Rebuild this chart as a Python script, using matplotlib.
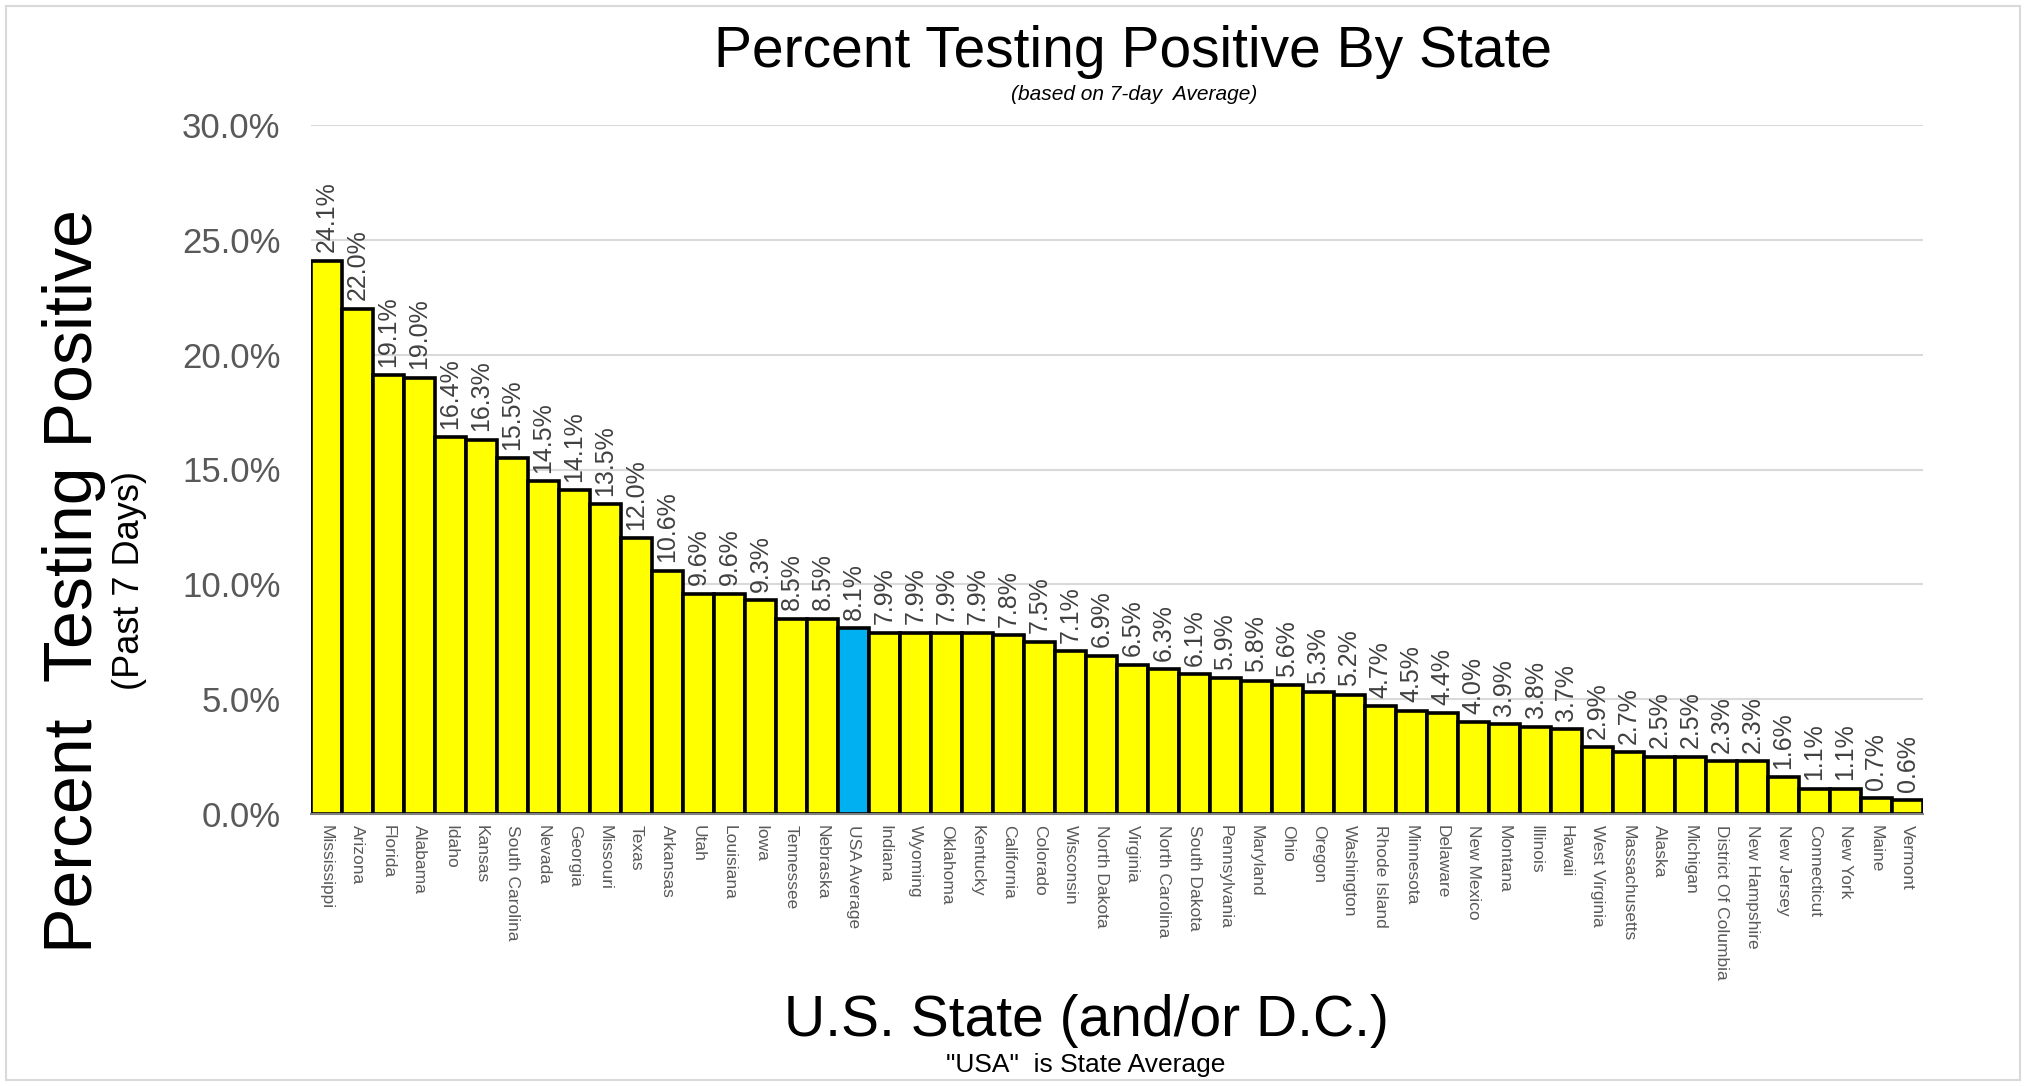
import matplotlib
matplotlib.use("Agg")
import matplotlib.pyplot as plt
from matplotlib.patches import Rectangle
from matplotlib.ticker import PercentFormatter

states = [
    "Mississippi", "Arizona", "Florida", "Alabama", "Idaho", "Kansas",
    "South Carolina", "Nevada", "Georgia", "Missouri", "Texas", "Arkansas",
    "Utah", "Louisiana", "Iowa", "Tennessee", "Nebraska", "USA Average",
    "Indiana", "Wyoming", "Oklahoma", "Kentucky", "California", "Colorado",
    "Wisconsin", "North Dakota", "Virginia", "North Carolina", "South Dakota",
    "Pennsylvania", "Maryland", "Ohio", "Oregon", "Washington", "Rhode Island",
    "Minnesota", "Delaware", "New Mexico", "Montana", "Illinois", "Hawaii",
    "West Virginia", "Massachusetts", "Alaska", "Michigan",
    "District Of Columbia", "New Hampshire", "New Jersey", "Connecticut",
    "New York", "Maine", "Vermont",
]
pct_positive = [
    24.1, 22.0, 19.1, 19.0, 16.4, 16.3, 15.5, 14.5, 14.1, 13.5, 12.0, 10.6,
    9.6, 9.6, 9.3, 8.5, 8.5, 8.1, 7.9, 7.9, 7.9, 7.9, 7.8, 7.5, 7.1, 6.9,
    6.5, 6.3, 6.1, 5.9, 5.8, 5.6, 5.3, 5.2, 4.7, 4.5, 4.4, 4.0, 3.9, 3.8,
    3.7, 2.9, 2.7, 2.5, 2.5, 2.3, 2.3, 1.6, 1.1, 1.1, 0.7, 0.6,
]
highlight = "USA Average"
y_ticks = [0, 5, 10, 15, 20, 25, 30]

FONT = ["Liberation Sans", "DejaVu Sans"]
plt.rcParams["font.family"] = FONT

W, H = 2026, 1086
fig = plt.figure(figsize=(W / 100, H / 100), dpi=100)

# axes box in pixel terms: x 311..1923, y 125..814 (from top)
ax = fig.add_axes([311 / W, 1 - 814 / H, (1923 - 311) / W, (814 - 125) / H])

colors = ["#00B0F0" if s == highlight else "#FFFF00" for s in states]
x = range(len(states))
ax.bar(x, pct_positive, width=1.0, color=colors, edgecolor="black",
       linewidth=2.6, zorder=3)

for xi, v in zip(x, pct_positive):
    ax.annotate(f"{v:.1f}%", (xi, v), xytext=(0, 6), textcoords="offset points",
                rotation=90, ha="center", va="bottom", fontsize=18,
                color="#404040")

ax.set_xlim(-0.5, len(states) - 0.5)
ax.set_ylim(0, 30)
ax.set_yticks(y_ticks)
ax.yaxis.set_major_formatter(PercentFormatter(decimals=1))
ax.set_xticks(list(x))
ax.set_xticklabels(states, rotation=270, fontsize=12.5, color="#595959",
                   va="top", ha="center")
for lbl in ax.get_yticklabels():
    lbl.set_fontsize(25)
    lbl.set_color("#595959")
ax.tick_params(axis="both", length=0)
ax.tick_params(axis="y", pad=22)
ax.tick_params(axis="x", pad=8)
ax.grid(axis="y", color="#d9d9d9", linewidth=1.5, zorder=0)
for side in ["top", "right", "left"]:
    ax.spines[side].set_visible(False)
ax.spines["bottom"].set_color("#808080")
ax.spines["bottom"].set_linewidth(1.5)
ax.spines["bottom"].set_zorder(4)

# titles and axis labels placed in figure pixels
fig.text(1133 / W, 1 - 52 / H, "Percent Testing Positive By State",
         ha="center", va="center", fontsize=41)
fig.text(1134 / W, 1 - 95 / H, "(based on 7-day  Average)",
         ha="center", va="center", fontsize=15, style="italic")
fig.text(74 / W, 1 - 581 / H, "Percent  Testing Positive", rotation=90,
         ha="center", va="center", fontsize=49)
fig.text(129 / W, 1 - 581 / H, "(Past 7 Days)", rotation=90,
         ha="center", va="center", fontsize=26)
fig.text(1086 / W, 1 - 1021 / H, "U.S. State (and/or D.C.)",
         ha="center", va="center", fontsize=41)
fig.text(1086 / W, 1 - 1065 / H, '"USA"  is State Average',
         ha="center", va="center", fontsize=19)

# thin frame around the whole slide
fig.patches.append(Rectangle((6 / W, 6 / H), 1 - 12 / W, 1 - 12 / H,
                             transform=fig.transFigure, fill=False,
                             edgecolor="#d9d9d9", linewidth=1.5))

fig.savefig("out.png", dpi=100)
